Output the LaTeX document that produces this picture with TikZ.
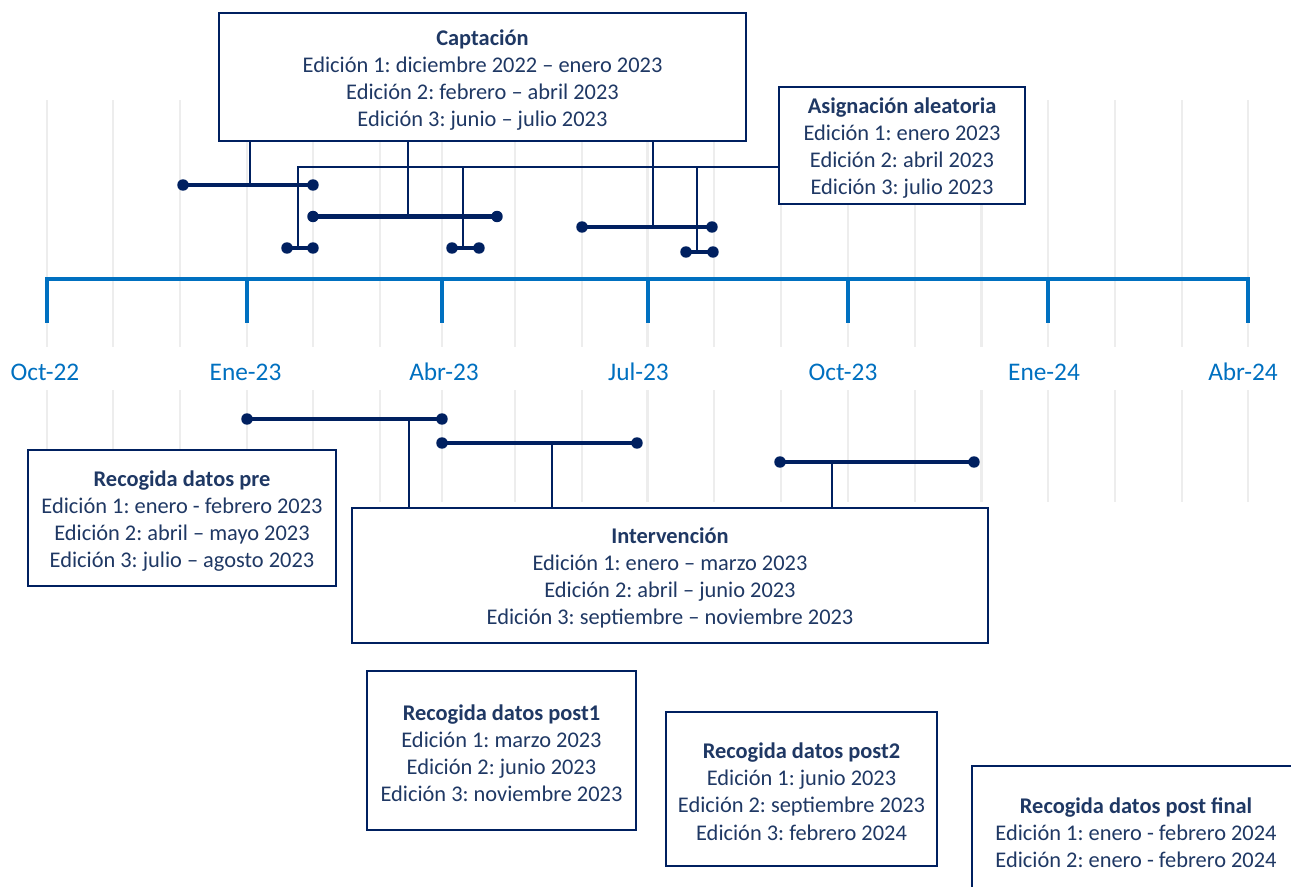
\documentclass[tikz,border=0pt]{standalone}
\usepackage{fontspec}
\setmainfont{Carlito}
\frenchspacing
\definecolor{navy}{HTML}{002060}
\definecolor{txt}{HTML}{1F3864}
\definecolor{axblue}{HTML}{0070C0}
\definecolor{gridc}{HTML}{EDEDED}
\tikzset{
  box/.style={draw=navy, line width=1.9pt, fill=white, inner sep=0pt, align=center,
    text=txt, font=\fontsize{16.8pt}{20.3pt}\selectfont},
  bar/.style={draw=navy, line width=3.3pt},
  conn/.style={draw=navy, line width=0.9pt},
  gridline/.style={draw=gridc, line width=1.6pt},
  axisline/.style={draw=axblue, line width=3pt, line join=miter},
  axlabel/.style={text=axblue, font=\fontsize{19pt}{22pt}\selectfont, inner sep=0pt},
}
\newcommand{\bardots}[2]{\fill[navy] (#1) circle (4.3pt); \fill[navy] (#2) circle (4.3pt);}
\newcommand{\ttl}[1]{\raisebox{0pt}[\dimexpr\height+4pt\relax][\depth]{\textbf{#1}}}
\begin{document}
\begin{tikzpicture}[x=0.75pt,y=-0.75pt]
\useasboundingbox (0,0) rectangle (1291,887);
\clip (0,0) rectangle (1291,887);
% grid
\foreach \gx in {46.7,113.3,180,246.7,313.3,380,441.7,515,581.7,647.5,714,781,848,915,981.5,1048,1115,1182,1248}{
  \draw[gridline] (\gx,100) -- (\gx,347);
  \draw[gridline] (\gx,390) -- (\gx,502);
}
% axis
\draw[axisline] (46.7,323) -- (46.7,279) -- (1248,279) -- (1248,323);
\foreach \tx in {246.7,441.7,647.5,848,1048}{
  \draw[axisline] (\tx,279) -- (\tx,323);
}
\node[axlabel] (l1) at (45,372) {Oct-22};
\node[axlabel] (l2) at (245.5,372) {Ene-23};
\node[axlabel] (l3) at (444,372) {Abr-23};
\node[axlabel] (l4) at (638.5,372) {Jul-23};
\node[axlabel] (l5) at (843,372) {Oct-23};
\node[axlabel] (l6) at (1044,372) {Ene-24};
\node[axlabel] (l7) at (1243,372) {Abr-24};

% boxes
\node[box, minimum width=395.25pt, minimum height=96pt] (capt) at (482.5,77)
  {\ttl{Captación}\\Edición 1: diciembre 2022 – enero 2023\\Edición 2: febrero – abril 2023\\Edición 3: junio – julio 2023};
\node[box, minimum width=184.5pt, minimum height=87.75pt] (asig) at (902,145.5)
  {\ttl{Asignación aleatoria}\\Edición 1: enero 2023\\Edición 2: abril 2023\\Edición 3: julio 2023};
\node[box, minimum width=231pt, minimum height=102pt] (pre) at (182,518)
  {\ttl{Recogida datos pre}\\Edición 1: enero - febrero 2023\\Edición 2: abril – mayo 2023\\Edición 3: julio – agosto 2023};
\node[box, minimum width=477pt, minimum height=101.25pt] (interv) at (670,575.5)
  {\ttl{Intervención}\\Edición 1: enero – marzo 2023\\Edición 2: abril – junio 2023\\Edición 3: septiembre – noviembre 2023};
\node[box, minimum width=201.75pt, minimum height=119.25pt] (post1) at (501.5,750.5)
  {\ttl{Recogida datos post1}\\Edición 1: marzo 2023\\Edición 2: junio 2023\\Edición 3: noviembre 2023};
\node[box, minimum width=203.25pt, minimum height=115.5pt] (post2) at (801.5,789)
  {\ttl{Recogida datos post2}\\Edición 1: junio 2023\\Edición 2: septiembre 2023\\Edición 3: febrero 2024};
\node[box, minimum width=246pt, minimum height=96pt] (postf) at (1136,830)
  {\ttl{Recogida datos post final}\\Edición 1: enero - febrero 2024\\Edición 2: enero - febrero 2024};

% bar coordinates (above axis)
\coordinate (b1a) at (183,185);   \coordinate (b1b) at (313,185);   \coordinate (b1m) at (250,185);
\coordinate (b2a) at (313,216.5); \coordinate (b2b) at (497,216.5); \coordinate (b2m) at (408,216.5);
\coordinate (b3a) at (582,227);   \coordinate (b3b) at (712,227);   \coordinate (b3m) at (653,227);
\coordinate (s1a) at (287,248);   \coordinate (s1b) at (313,248);   \coordinate (s1m) at (298,248);
\coordinate (s2a) at (452,248);   \coordinate (s2b) at (479,248);   \coordinate (s2m) at (463,248);
\coordinate (s3a) at (686,252);   \coordinate (s3b) at (713,252);   \coordinate (s3m) at (697,252);
\coordinate (j1) at (298,167); \coordinate (j2) at (463,167); \coordinate (j3) at (697,167);
% bar coordinates (below axis)
\coordinate (c1a) at (247,419);   \coordinate (c1b) at (442,419);   \coordinate (c1m) at (409,419);
\coordinate (c2a) at (442,443);   \coordinate (c2b) at (637,443);   \coordinate (c2m) at (552,443);
\coordinate (c3a) at (780,462);   \coordinate (c3b) at (974,462);   \coordinate (c3m) at (832,462);

% connectors
\draw[conn] (capt.south -| b1m) -- (b1m);
\draw[conn] (capt.south -| b2m) -- (b2m);
\draw[conn] (capt.south -| b3m) -- (b3m);
\draw[conn] (asig.west |- j1) -- (j1) -- (s1m);
\draw[conn] (j2) -- (s2m);
\draw[conn] (j3) -- (s3m);
\draw[conn] (c1m) -- (interv.north -| c1m);
\draw[conn] (c2m) -- (interv.north -| c2m);
\draw[conn] (c3m) -- (interv.north -| c3m);

% bars
\foreach \p in {b1,b2,b3,s1,s2,s3,c1,c2,c3}{
  \draw[bar] (\p a) -- (\p b);
  \bardots{\p a}{\p b}
}
\end{tikzpicture}
\end{document}
